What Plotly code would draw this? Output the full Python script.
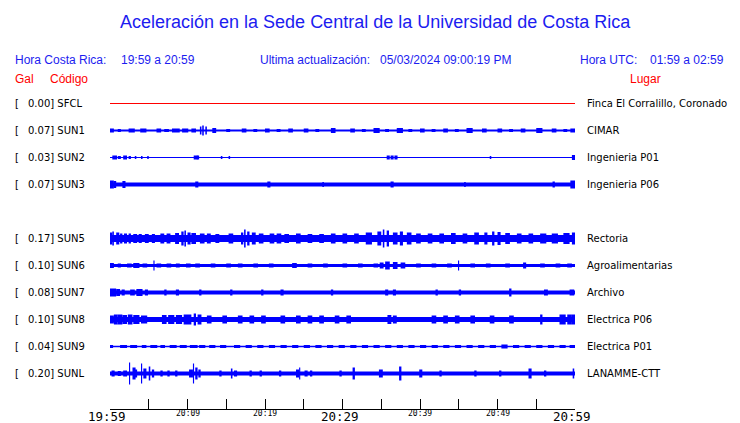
import plotly.graph_objects as go

# ---------------- data ----------------
CODES = ["SFCL", "SUN1", "SUN2", "SUN3", "SUN5", "SUN6", "SUN7", "SUN8", "SUN9", "SUNL"]
GAL = [0.00, 0.07, 0.03, 0.07, 0.17, 0.10, 0.08, 0.10, 0.04, 0.20]
PLACES = ["Finca El Corralillo, Coronado", "CIMAR", "Ingenieria P01", "Ingenieria P06",
          "Rectoria", "Agroalimentarias", "Archivo", "Electrica P06", "Electrica P01",
          "LANAMME-CTT"]
ROW_SLOT = [0, 1, 2, 3, 5, 6, 7, 8, 9, 10]          # SUN4 slot (4) is empty
NOISE_FLOOR = [0.5, 1.0, 0.5, 2.0, 3.5, 1.5, 2.0, 2.5, 0.75, 2.0]   # half amplitude (px scale)

# bursts: start (minutes after 19:59), duration (minutes), half amplitude (px scale)
SUN1_T = [0.0, 1.0, 2.4, 3.9, 6.0, 7.0, 8.0, 9.3, 10.5, 11.6, 11.9, 12.3, 13.2, 15.0, 17.0, 18.5,
          20.0, 21.5, 23.0, 25.0, 26.5, 28.5, 31.0, 32.5, 34.0, 35.5, 37.0, 38.5, 40.0, 41.5,
          43.0, 44.5, 46.0, 48.0, 50.0, 51.5, 53.0, 55.0, 57.0, 58.5, 59.4]
SUN1_D = [0.5, 0.4, 0.8, 0.8, 0.6, 0.6, 1.0, 0.8, 0.6, 0.2, 0.2, 0.2, 0.5, 0.5, 0.6, 0.5,
          0.6, 0.5, 0.6, 0.6, 0.5, 0.6, 0.6, 0.5, 0.8, 0.5, 0.8, 0.5, 0.6, 0.5,
          0.6, 0.5, 0.8, 0.6, 0.6, 0.5, 0.6, 0.8, 0.6, 0.5, 0.6]
SUN1_A = [2.0, 1.5, 2.0, 2.0, 2.0, 1.5, 2.0, 2.0, 2.0, 4.0, 5.0, 4.0, 2.5, 1.5, 2.0, 1.5,
          2.0, 1.5, 2.0, 2.0, 1.5, 2.5, 2.0, 1.5, 2.5, 1.5, 2.5, 1.5, 2.0, 1.5,
          2.0, 1.5, 2.5, 2.0, 2.0, 1.5, 2.0, 2.5, 2.0, 1.5, 2.0]
SUN2_T = [0.3, 1.0, 1.7, 2.4, 3.2, 4.0, 4.8, 10.8, 11.2, 14.3, 15.3, 35.7, 36.2, 36.7, 49.0, 59.6]
SUN2_D = [0.6, 0.4, 0.5, 0.3, 0.2, 0.2, 0.2, 0.5, 0.3, 0.2, 0.2, 0.4, 0.4, 0.4, 0.2, 0.4]
SUN2_A = [2.0, 1.5, 2.0, 1.5, 1.5, 1.5, 1.5, 2.0, 2.0, 1.5, 1.5, 2.0, 2.0, 2.0, 1.5, 2.5]
SUN3_T = [0.0, 0.5, 1.6, 11.0, 20.3, 27.4, 36.2, 45.7, 57.1, 59.4]
SUN3_D = [0.5, 0.3, 0.4, 0.4, 0.4, 0.2, 0.4, 0.2, 0.3, 0.6]
SUN3_A = [4.0, 3.5, 3.5, 3.0, 3.0, 2.5, 3.0, 2.5, 3.0, 4.0]
SUN5_T = [0.0, 0.3, 0.8, 1.3, 1.8, 2.4, 3.0, 3.7, 4.5, 5.4, 6.5, 7.3, 8.4, 9.2, 9.6, 10.0, 10.5,
          11.6, 12.5, 13.6, 15.3, 16.9, 17.3, 17.7, 18.3, 19.2, 20.6, 21.5, 22.5, 24.0, 25.5,
          27.0, 28.5, 30.0, 31.5, 33.0, 34.5, 35.2, 35.7, 36.5, 37.4, 38.3, 39.5, 41.0, 42.5,
          44.0, 45.5, 47.0, 48.3, 49.3, 50.0, 51.0, 52.5, 54.0, 55.5, 57.0, 58.5, 59.6]
SUN5_D = [0.3, 0.2, 0.4, 0.3, 0.4, 0.3, 0.5, 0.4, 0.5, 0.4, 0.5, 0.5, 0.5, 0.3, 0.2, 0.4, 0.6,
          0.6, 0.5, 0.5, 0.6, 0.3, 0.2, 0.3, 0.5, 0.6, 0.6, 0.6, 0.6, 0.6, 0.6,
          0.6, 0.6, 0.6, 0.6, 0.8, 0.5, 0.2, 0.3, 0.6, 0.4, 0.6, 0.6, 0.6, 0.6,
          0.6, 0.6, 0.6, 0.4, 0.3, 0.4, 0.6, 0.6, 0.6, 0.8, 0.8, 0.8, 0.4]
SUN5_A = [6.0, 7.0, 6.0, 5.0, 5.0, 5.0, 4.5, 4.5, 4.5, 4.5, 5.0, 5.0, 5.5, 7.0, 8.0, 6.0, 5.5,
          5.0, 5.0, 4.5, 5.0, 6.0, 9.0, 7.0, 6.0, 5.0, 5.0, 5.0, 4.5, 5.0, 4.5,
          4.5, 5.0, 5.0, 5.0, 6.0, 7.0, 9.0, 8.0, 6.0, 7.0, 6.0, 5.0, 5.0, 5.0,
          5.5, 5.0, 6.0, 6.0, 7.0, 6.5, 5.5, 5.0, 5.0, 5.0, 5.0, 5.5, 6.0]
SUN6_T = [0.0, 1.0, 2.2, 3.0, 4.2, 5.6, 6.0, 7.3, 8.5, 9.8, 11.0, 13.0, 15.0, 16.5, 18.5, 20.5,
          23.5, 25.5, 27.5, 30.0, 32.0, 34.0, 34.8, 35.5, 36.5, 37.5, 39.5, 41.5, 43.5, 44.9,
          46.5, 48.5, 51.0, 53.3, 55.5, 57.5, 59.0]
SUN6_D = [0.5, 0.4, 0.6, 0.8, 0.6, 0.15, 0.6, 0.6, 0.5, 0.6, 0.6, 0.6, 0.6, 0.6, 0.6, 0.6,
          0.6, 0.6, 0.6, 0.6, 0.6, 0.6, 0.5, 0.6, 0.6, 0.6, 0.6, 0.6, 0.6, 0.15,
          0.6, 0.6, 0.6, 0.4, 0.6, 0.6, 0.6]
SUN6_A = [2.5, 2.0, 2.0, 2.5, 2.0, 5.0, 2.0, 2.0, 2.0, 2.0, 2.0, 2.0, 2.0, 2.0, 2.0, 2.0,
          2.5, 2.0, 2.0, 2.0, 2.0, 2.0, 3.0, 4.0, 3.5, 3.0, 2.0, 2.0, 2.0, 5.0,
          2.0, 2.0, 2.0, 3.0, 2.0, 2.0, 2.0]
SUN7_T = [0.0, 0.8, 1.5, 2.6, 3.4, 4.5, 7.0, 8.5, 11.5, 15.5, 19.5, 22.0, 28.5, 35.5, 36.5, 42.0,
          45.0, 51.5, 56.0, 59.3]
SUN7_D = [0.8, 0.5, 0.4, 0.6, 0.8, 0.4, 0.3, 0.4, 0.3, 0.3, 0.3, 0.4, 0.3, 0.4, 0.4, 0.3,
          0.3, 0.3, 0.5, 0.6]
SUN7_A = [4.0, 3.5, 3.0, 3.0, 3.5, 3.0, 3.0, 3.0, 3.0, 3.0, 3.0, 3.0, 3.0, 3.0, 3.0, 3.0,
          3.0, 4.0, 3.0, 3.0]
SUN8_T = [0.0, 0.5, 1.0, 1.6, 2.3, 3.0, 4.0, 6.7, 7.5, 8.5, 9.5, 10.8, 11.3, 12.5, 14.5, 16.5,
          18.0, 19.5, 22.0, 24.0, 25.5, 27.0, 29.0, 30.5, 35.8, 36.5, 41.5, 43.0, 44.5, 46.5,
          49.0, 51.5, 55.5, 58.0, 59.0, 59.6]
SUN8_D = [0.5, 0.5, 0.6, 0.6, 0.6, 0.8, 0.8, 0.6, 0.8, 0.8, 1.0, 0.3, 0.5, 0.6, 0.6, 0.6,
          0.6, 0.6, 0.6, 0.6, 0.6, 0.6, 0.6, 0.6, 0.5, 0.5, 0.6, 0.6, 0.6, 0.6,
          0.6, 0.6, 0.3, 0.8, 0.6, 0.4]
SUN8_A = [4.0, 5.0, 5.0, 4.5, 5.0, 4.5, 4.0, 4.5, 4.5, 4.5, 5.0, 6.0, 5.0, 4.0, 4.0, 4.0,
          4.0, 4.0, 4.0, 4.0, 4.0, 4.0, 4.0, 4.0, 4.5, 4.0, 4.0, 4.0, 4.0, 4.0,
          4.0, 4.0, 5.0, 5.0, 5.0, 5.0]
SUN9_T = [0.0, 1.3, 2.6, 4.1, 5.2, 6.5, 7.7, 9.0, 10.3, 11.5, 12.8, 14.2, 16.0, 17.5, 19.0, 20.5,
          22.0, 23.5, 25.0, 26.5, 28.0, 29.5, 31.0, 32.5, 34.0, 35.5, 37.0, 38.5, 40.0, 41.5,
          43.0, 44.5, 46.0, 47.5, 49.0, 50.5, 52.0, 53.5, 55.0, 56.5, 58.0, 59.3]
SUN9_D = [0.4, 0.9, 0.9, 0.6, 0.9, 0.6, 0.9, 0.9, 1.0, 0.8, 0.8, 0.8, 0.8, 0.8, 0.8, 0.8,
          0.8, 0.8, 0.8, 0.8, 0.8, 0.8, 0.8, 0.8, 0.8, 0.8, 0.8, 0.8, 0.8, 0.8,
          0.8, 0.8, 0.8, 0.8, 0.8, 0.8, 0.8, 0.8, 0.8, 0.8, 0.8, 0.7]
SUN9_A = [1.5, 1.5, 1.5, 1.5, 1.5, 1.5, 1.5, 1.5, 1.5, 1.5, 1.5, 1.5, 1.5, 1.5, 1.5, 1.5,
          1.5, 1.5, 1.5, 1.5, 1.5, 1.5, 1.5, 1.5, 1.5, 1.5, 1.5, 1.5, 1.5, 1.5,
          1.5, 1.5, 1.5, 1.5, 1.5, 2.0, 1.5, 1.5, 1.5, 1.5, 1.5, 1.5]
SUNL_T = [0.2, 1.0, 1.7, 2.45, 2.9, 3.2, 4.0, 4.3, 5.0, 5.4, 6.5, 7.4, 8.4, 10.2, 10.7, 11.0, 11.4,
          14.1, 15.6, 16.0, 18.0, 19.3, 21.8, 24.0, 24.4, 25.1, 25.8, 29.6, 31.0, 31.3, 34.7,
          37.0, 37.3, 39.9, 42.5, 47.0, 50.2, 54.0, 56.0, 59.7]
SUNL_D = [0.4, 0.4, 0.5, 0.15, 0.4, 0.3, 0.15, 0.4, 0.2, 0.3, 0.3, 0.3, 0.3, 0.5, 0.15, 0.3, 0.3,
          0.3, 0.2, 0.4, 0.3, 0.3, 0.3, 0.4, 0.15, 0.4, 0.3, 0.3, 0.15, 0.3, 0.5,
          0.15, 0.3, 0.4, 0.3, 0.3, 0.3, 0.4, 0.3, 0.2]
SUNL_A = [3.0, 2.5, 3.0, 11.0, 6.0, 4.0, 10.0, 5.0, 7.0, 4.0, 3.0, 3.0, 3.0, 4.0, 10.0, 6.0, 4.0,
          3.0, 5.0, 3.0, 3.0, 3.0, 3.0, 4.0, 6.0, 3.0, 3.0, 3.0, 12.0, 6.0, 4.0,
          12.0, 7.0, 4.0, 3.0, 3.0, 3.0, 5.0, 3.0, 5.0]
BURST_T = [[], SUN1_T, SUN2_T, SUN3_T, SUN5_T, SUN6_T, SUN7_T, SUN8_T, SUN9_T, SUNL_T]
BURST_D = [[], SUN1_D, SUN2_D, SUN3_D, SUN5_D, SUN6_D, SUN7_D, SUN8_D, SUN9_D, SUNL_D]
BURST_A = [[], SUN1_A, SUN2_A, SUN3_A, SUN5_A, SUN6_A, SUN7_A, SUN8_A, SUN9_A, SUNL_A]

TICK_MIN = list(range(0, 61, 5))
BIG_LABELS = {0: "19:59", 30: "20:29", 60: "20:59"}
SMALL_LABELS = {10: "20:09", 20: "20:19", 40: "20:39", 50: "20:49"}

# ---------------- layout constants ----------------
W, H = 740, 423
L, R, T, B = 110, 575, 90, 409        # plot area in pixels
ROW_PX = 27.0
ROW0_PX = 103.5
Y_TOP = 0 - (ROW0_PX - T) / ROW_PX
Y_BOT = Y_TOP + (B - T) / ROW_PX

BLUE = "#0000ff"
TXT_BLUE = "#1c1cf0"
RED = "#ff0000"
SANS = "Liberation Sans, Arial, sans-serif"
DJV = "DejaVu Sans, sans-serif"
MONO = "DejaVu Sans Mono, monospace"

fig = go.Figure()

for i, code in enumerate(CODES):
    slot = ROW_SLOT[i]
    color = RED if code == "SFCL" else BLUE
    fig.add_trace(go.Scatter(x=[0, 60], y=[slot, slot], mode="lines",
                             line=dict(color=color, width=max(1, 2 * NOISE_FLOOR[i])),
                             hoverinfo="skip", showlegend=False))
    groups = {}
    for t, d, a in zip(BURST_T[i], BURST_D[i], BURST_A[i]):
        xs, ys = groups.setdefault(a, ([], []))
        xs += [t, min(60, t + d), None]
        ys += [slot, slot, None]
    for a, (xs, ys) in groups.items():
        fig.add_trace(go.Scatter(x=xs, y=ys, mode="lines",
                                 line=dict(color=BLUE, width=2 * a),
                                 hoverinfo="skip", showlegend=False))


def px2paper(px, py):
    return (px - L) / (R - L), (B - py) / (B - T)


annotations = []


def ann(text, px, py, size, color, font=SANS, xanchor="left"):
    x, y = px2paper(px, py)
    annotations.append(dict(text=text, x=x, y=y, xref="paper", yref="paper",
                            xanchor=xanchor, yanchor="middle", showarrow=False,
                            xshift=-2 if xanchor == "left" else 0,
                            font=dict(family=font, size=size, color=color)))


ann("Aceleración en la Sede Central de la Universidad de Costa Rica", 375, 22, 18, TXT_BLUE,
    xanchor="center")
ann("Hora Costa Rica:", 15, 60, 12, TXT_BLUE)
ann("19:59 a 20:59", 121, 60, 12, TXT_BLUE)
ann("Ultima actualización:", 260, 60, 12, TXT_BLUE)
ann("05/03/2024 09:00:19 PM", 380, 60, 12, TXT_BLUE)
ann("Hora UTC:", 580, 60, 12, TXT_BLUE)
ann("01:59 a 02:59", 650, 60, 12, TXT_BLUE)
ann("Gal", 15, 79, 12, RED)
ann("Código", 50, 79, 12, RED)
ann("Lugar", 630, 79, 12, RED)

for i, code in enumerate(CODES):
    py = 103 + ROW_SLOT[i] * ROW_PX
    ann("[", 15, py, 10, "black", font=DJV)
    ann(f"{GAL[i]:.2f}] {code}", 28, py, 10, "black", font=DJV)
    ann(PLACES[i], 587, py, 10, "black", font=DJV)

for m, lab in BIG_LABELS.items():
    annotations.append(dict(text=lab, x=m, y=(B - 416.5) / (B - T), xref="x", yref="paper",
                            xanchor="center", yanchor="middle", xshift=-3, showarrow=False,
                            font=dict(family=MONO, size=12.5, color="black")))
for m, lab in SMALL_LABELS.items():
    annotations.append(dict(text=lab, x=m, y=(B - 413) / (B - T), xref="x", yref="paper",
                            xanchor="center", yanchor="middle", showarrow=False,
                            font=dict(family=MONO, size=8, color="black")))

fig.update_layout(
    width=W, height=H,
    margin=dict(l=L, r=W - R, t=T, b=H - B, pad=0),
    paper_bgcolor="white", plot_bgcolor="white",
    showlegend=False,
    xaxis=dict(range=[0, 60], tickvals=TICK_MIN, ticktext=[""] * len(TICK_MIN),
               ticks="inside", ticklen=10, tickcolor="black", tickwidth=1,
               showline=True, linecolor="black", linewidth=1,
               showgrid=False, zeroline=False, fixedrange=True),
    yaxis=dict(range=[Y_BOT, Y_TOP], visible=False, showgrid=False, zeroline=False,
               fixedrange=True),
    annotations=annotations,
)

fig.write_html("out.html", config={"displayModeBar": False},
               post_script="document.body.style.margin='0';document.body.style.overflow='hidden';")
